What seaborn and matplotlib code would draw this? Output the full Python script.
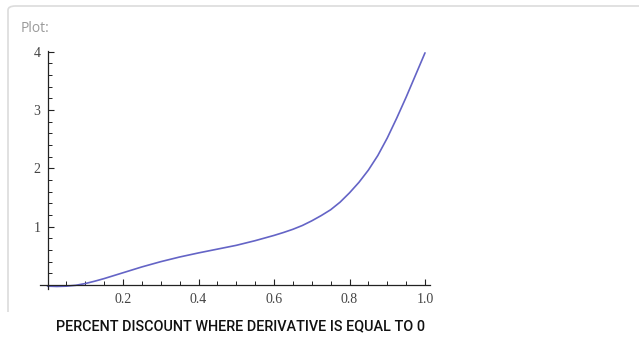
import numpy as np
import pandas as pd
import matplotlib
matplotlib.use("Agg")
import matplotlib.pyplot as plt
import seaborn as sns
from matplotlib.patches import FancyBboxPatch
from matplotlib.transforms import Bbox
from matplotlib.ticker import MultipleLocator, FixedLocator

# ---- data ----
x_vals = [0.0, 0.025, 0.05, 0.075, 0.1, 0.125, 0.15, 0.2, 0.25, 0.3, 0.35, 0.4,
          0.45, 0.5, 0.55, 0.6, 0.625, 0.65, 0.675, 0.7, 0.725, 0.75, 0.775,
          0.8, 0.825, 0.85, 0.875, 0.9, 0.925, 0.95, 0.975, 1.0]
y_vals = [-0.02, -0.025, -0.02, -0.005, 0.025, 0.065, 0.11, 0.21, 0.31, 0.40, 0.48, 0.55,
          0.615, 0.68, 0.76, 0.85, 0.90, 0.955, 1.02, 1.10, 1.19, 1.29, 1.42,
          1.58, 1.76, 1.97, 2.22, 2.52, 2.86, 3.22, 3.60, 3.98]
x_ticks = [0.2, 0.4, 0.6, 0.8, 1.0]
x_tick_labels = ["0.2", "0.4", "0.6", "0.8", "1.0"]
y_ticks = [1, 2, 3, 4]
y_tick_labels = ["1", "2", "3", "4"]
panel_label = "Plot:"
caption = "PERCENT DISCOUNT WHERE DERIVATIVE IS EQUAL TO 0"

df = pd.DataFrame({"x": x_vals, "y": y_vals})

sns.set_style("white")
W, H = 639, 340
fig = plt.figure(figsize=(W / 100, H / 100), dpi=100)

# axes placement (pixel-based)
x0_px, x1_px = 47.5, 425.0   # x=0, x=1
y0_px, y4_px = 285.0, 51.7   # y=0, y=4
sx = (x1_px - x0_px) / 1.0
sy = (y0_px - y4_px) / 4.0
xmin, xmax = -0.02, 1.013
ymin, ymax = -0.07, 4.01
left = x0_px + xmin * sx
right = x0_px + xmax * sx
bottom = y0_px - ymin * sy
top = y0_px - ymax * sy
ax = fig.add_axes([left / W, 1 - bottom / H, (right - left) / W, (bottom - top) / H])
ax.patch.set_alpha(0)

sns.lineplot(data=df, x="x", y="y", ax=ax, color="#6464c6", linewidth=1.2)

ax.set_xlim(xmin, xmax)
ax.set_ylim(ymin, ymax)
ax.spines["left"].set_position(("data", 0))
ax.spines["bottom"].set_position(("data", 0))
for s in ("top", "right"):
    ax.spines[s].set_visible(False)
for s in ("left", "bottom"):
    ax.spines[s].set_color("#222222")
    ax.spines[s].set_linewidth(0.9)

ax.xaxis.set_major_locator(FixedLocator(x_ticks))
ax.set_xticklabels(x_tick_labels)
ax.xaxis.set_minor_locator(MultipleLocator(0.05))
ax.yaxis.set_major_locator(FixedLocator(y_ticks))
ax.set_yticklabels(y_tick_labels)
ax.yaxis.set_minor_locator(MultipleLocator(0.2))

ax.tick_params(axis="both", which="major", direction="in", length=4.5, width=0.8,
               color="#222222", labelsize=10, labelcolor="#444444")
ax.tick_params(axis="x", which="major", pad=6)
ax.tick_params(axis="y", which="major", pad=5)
ax.tick_params(axis="both", which="minor", direction="in", length=2.6, width=0.7,
               color="#222222")
ax.tick_params(axis="x", which="both", bottom=True)
ax.tick_params(axis="y", which="both", left=True)
for lab in ax.get_xticklabels() + ax.get_yticklabels():
    lab.set_family(["Liberation Serif", "DejaVu Serif"])
ax.set_xlabel("")
ax.set_ylabel("")

# panel frame (rounded box, clipped)
frame = FancyBboxPatch((8 / W, 1 - 420 / H), 760 / W, 414 / H,
                       boxstyle="round,pad=0,rounding_size=0.012",
                       transform=fig.transFigure, fill=False,
                       edgecolor="#dcdcdc", linewidth=1.2)
fig.patches.append(frame)
frame.set_clip_box(Bbox.from_extents(0, H - 312, W, H))

fig.text(21 / W, 1 - 28 / H, panel_label, color="#9a9a9a", fontsize=10,
         family=["Open Sans", "DejaVu Sans"], va="center", ha="left")

fig.text(241 / W, 1 - 326 / H, caption, color="#111111", fontsize=10.4,
         family=["Roboto", "DejaVu Sans"], fontweight="medium",
         va="center", ha="center")

fig.savefig("out.png", dpi=100)
